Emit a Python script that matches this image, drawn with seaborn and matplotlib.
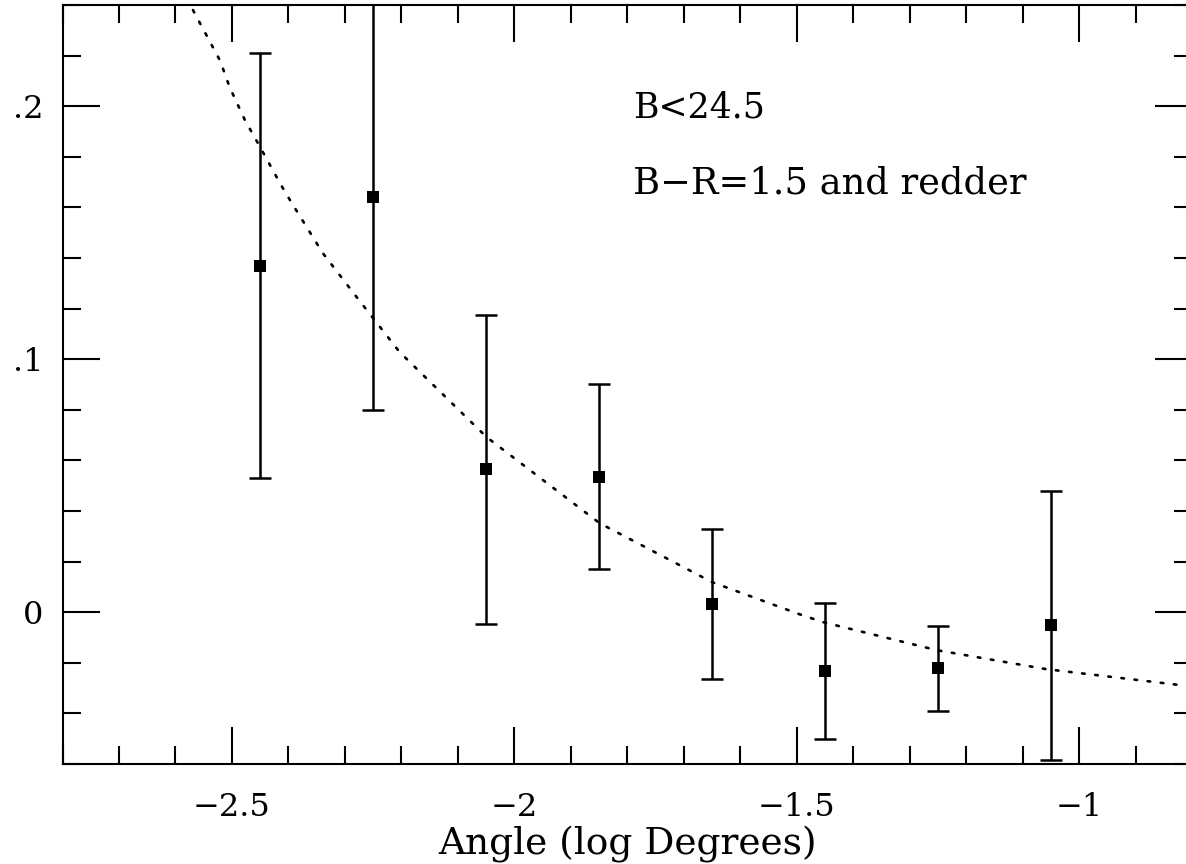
import numpy as np
import pandas as pd
import matplotlib
matplotlib.use("Agg")
import matplotlib.pyplot as plt
from matplotlib.ticker import MultipleLocator, FixedLocator, FixedFormatter
import seaborn as sns

# --- data ---
log_angle = [-2.45, -2.25, -2.05, -1.85, -1.65, -1.45, -1.25, -1.05]
w_theta = [0.137, 0.164, 0.0565, 0.0535, 0.0033, -0.0233, -0.0221, -0.0051]
w_err = [0.084, 0.084, 0.061, 0.0366, 0.0295, 0.0269, 0.0168, 0.0532]

fit_x = [-2.569, -2.521, -2.504, -2.477, -2.450, -2.415, -2.397, -2.339, -2.279,
         -2.203, -2.049, -1.849, -1.650, -1.495, -1.452, -1.252, -1.058, -0.817]
fit_y = [0.238, 0.218, 0.2075, 0.1945, 0.1838, 0.1696, 0.1628, 0.1419, 0.1245,
         0.1028, 0.0692, 0.0352, 0.0119, -0.0008, -0.0040, -0.0150, -0.0225, -0.0289]

xtick_vals = [-2.5, -2.0, -1.5, -1.0]
xtick_labels = ["\u22122.5", "\u22122", "\u22121.5", "\u22121"]
ytick_vals = [0.0, 0.1, 0.2]
ytick_labels = ["0", ".1", ".2"]
x_label = "Angle (log Degrees)"
note1 = "B<24.5"
note2 = "B\u2212R=1.5 and redder"

sns.set_theme(style="ticks")
plt.rcParams["font.family"] = ["DejaVu Serif"]
plt.rcParams["text.color"] = "black"
plt.rcParams["axes.labelcolor"] = "black"
plt.rcParams["axes.linewidth"] = 1.5

fig = plt.figure(figsize=(11.86, 8.64), dpi=100)
ax = fig.add_axes([0.0527, 0.1157, 1.0051 - 0.0527, 0.9942 - 0.1157])

pts = pd.DataFrame({"x": log_angle, "y": w_theta, "e": w_err})
fit = pd.DataFrame({"x": fit_x, "y": fit_y})

sns.lineplot(data=fit, x="x", y="y", ax=ax, color="black", lw=1.9,
             linestyle=(0, (1, 4.0)), dash_capstyle="round", sort=False,
             estimator=None)
ax.errorbar(pts["x"], pts["y"], yerr=pts["e"], fmt="none", ecolor="black",
            elinewidth=1.8, capsize=8, capthick=1.8)
sns.scatterplot(data=pts, x="x", y="y", ax=ax, marker="s", s=72,
                color="black", linewidth=0, zorder=5)

ax.set_xlim(-2.8, -0.8)
ax.set_ylim(-0.06, 0.24)

ax.xaxis.set_major_locator(FixedLocator(xtick_vals))
ax.xaxis.set_major_formatter(FixedFormatter(xtick_labels))
ax.xaxis.set_minor_locator(MultipleLocator(0.1))
ax.yaxis.set_major_locator(FixedLocator(ytick_vals))
ax.yaxis.set_major_formatter(FixedFormatter(ytick_labels))
ax.yaxis.set_minor_locator(MultipleLocator(0.02))

ax.tick_params(which="both", direction="in", top=True, right=True,
               colors="black", width=1.5, labelcolor="black")
ax.tick_params(which="major", length=26.5)
ax.tick_params(which="minor", length=13)
ax.tick_params(axis="x", which="major", labelsize=23, pad=20)
ax.tick_params(axis="y", which="major", labelsize=23, pad=14)

ax.set_xlabel(x_label, fontsize=27, labelpad=2, color="black")
ax.set_ylabel("")

ax.text(-1.790, 0.1957, note1, fontsize=25, ha="left", va="baseline", color="black")
ax.text(-1.790, 0.1656, note2, fontsize=26.5, ha="left", va="baseline", color="black")

for s in ax.spines.values():
    s.set_color("black")
    s.set_linewidth(1.5)

fig.savefig("out.png", dpi=100)
